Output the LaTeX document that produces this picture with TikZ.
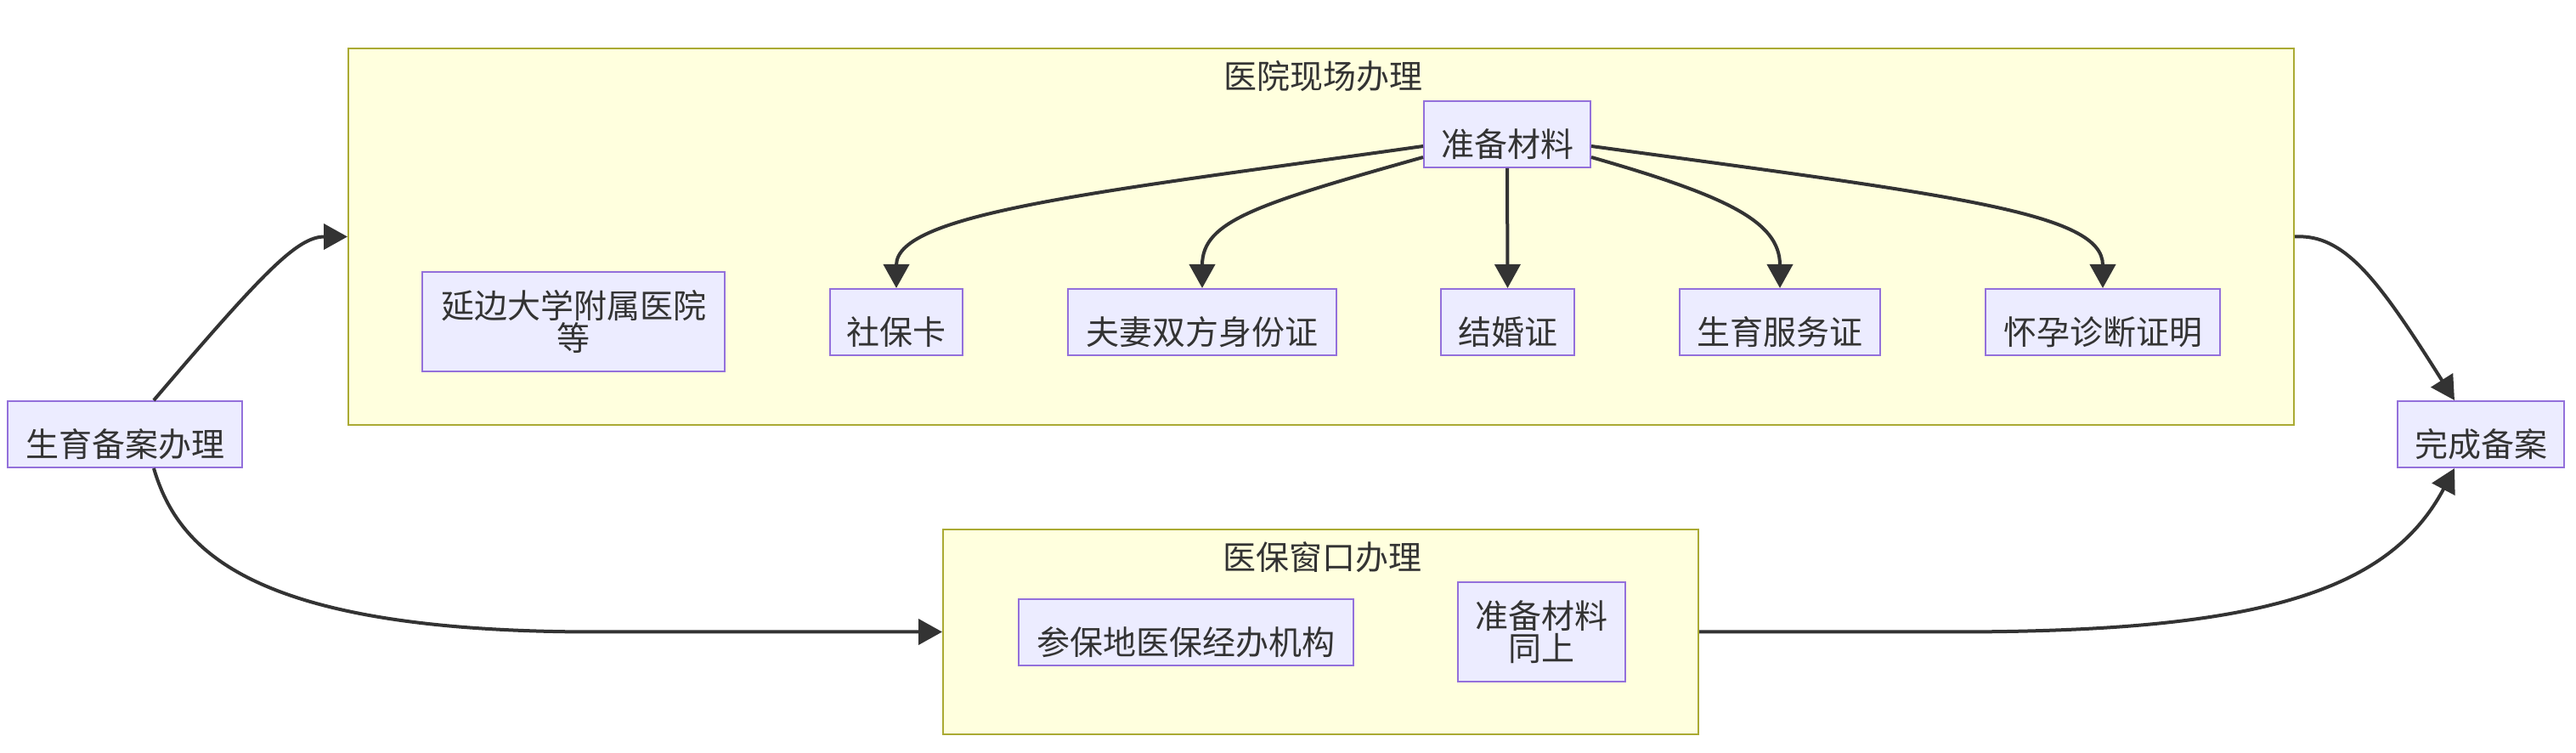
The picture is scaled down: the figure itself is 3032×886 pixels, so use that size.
\documentclass[tikz,border=0pt]{standalone}
\usepackage{fontspec}
\setmainfont{Noto Sans CJK SC}
\usetikzlibrary{arrows.meta,calc}
\definecolor{nodefill}{HTML}{ECECFF}
\definecolor{nodeline}{HTML}{9370DB}
\definecolor{clfill}{HTML}{FFFFDE}
\definecolor{clline}{HTML}{AAAA33}
\definecolor{edgecol}{HTML}{333333}
\definecolor{txt}{HTML}{333333}
\begin{document}
\begin{tikzpicture}[x=0.25pt,y=-0.25pt,
  box/.style={draw=nodeline, fill=nodefill, line width=0.5pt, inner sep=0pt,
    minimum height=19.5pt, text=txt, font=\fontsize{9.75}{9.5}\selectfont, align=center},
  oneline/.style={box, text height=14.2pt, text depth=1pt},
  cluster/.style={draw=clline, fill=clfill, line width=0.5pt, inner sep=0pt},
  ctitle/.style={text=txt, font=\fontsize{9.75}{9.5}\selectfont, inner sep=0pt},
  flow/.style={draw=edgecol, line width=1pt, -{Triangle[length=7pt,width=7.5pt]}}]
\fill[white] (0,0) rectangle (3032,886);
\useasboundingbox (0,0) rectangle (3032,886);
% clusters
\node[cluster, minimum width=572.5pt, minimum height=110.75pt] (c1) at (1555,278.5) {};
\node[ctitle] (t1) at (1557,90) {医院现场办理};
\node[cluster, minimum width=222.25pt, minimum height=60.25pt] (c2) at (1554.5,743.5) {};
\node[ctitle] (t2) at (1556,656) {医保窗口办理};
% nodes
\node[oneline, minimum width=69pt] (sb) at (147,511) {生育备案办理};
\node[box, minimum width=89pt, minimum height=29.25pt] (yb) at (675,378.5) {延边大学附属医院\\等};
\node[oneline, minimum width=49pt] (zb) at (1774,158) {准备材料};
\node[oneline, minimum width=39pt] (sbk) at (1055,379) {社保卡};
\node[oneline, minimum width=79pt] (fq) at (1415,379) {夫妻双方身份证};
\node[oneline, minimum width=39.25pt] (jh) at (1774.5,379) {结婚证};
\node[oneline, minimum width=59pt] (sy) at (2095,379) {生育服务证};
\node[oneline, minimum width=69pt] (hy) at (2475,379) {怀孕诊断证明};
\node[oneline, minimum width=49pt] (wc) at (2920,511) {完成备案};
\node[oneline, minimum width=98.5pt] (cb) at (1396,744) {参保地医保经办机构};
\node[box, minimum width=49.25pt, minimum height=29.25pt] (zb2) at (1814.5,743.5) {准备材料\\同上};
% edges
\draw[flow] ($(sb.north)+(34,0)$) .. controls (310,320) and (350,278.5) .. (c1.west);
\draw[flow] ($(sb.south)+(34,0)$) .. controls (210,650) and (300,743.5) .. (700,743.5) -- (c2.west);
\draw[flow] (c1.east) .. controls (2760,275) and (2800,330) .. ($(wc.north)+(-31,0)$);
\draw[flow] (c2.east) -- (2300,743.5) .. controls (2650,743.5) and (2810,700) .. ($(wc.south)+(-31,0)$);
\draw[flow] ($(zb.west)+(0,14)$) .. controls (1300,225) and (1055,250) .. (sbk.north);
\draw[flow] ($(zb.west)+(0,27)$) .. controls (1480,240) and (1415,260) .. (fq.north);
\draw[flow] (zb.south) -- (jh.north);
\draw[flow] ($(zb.east)+(0,27)$) .. controls (2030,230) and (2095,260) .. (sy.north);
\draw[flow] ($(zb.east)+(0,14)$) .. controls (2300,230) and (2475,250) .. (hy.north);
\end{tikzpicture}
\end{document}
